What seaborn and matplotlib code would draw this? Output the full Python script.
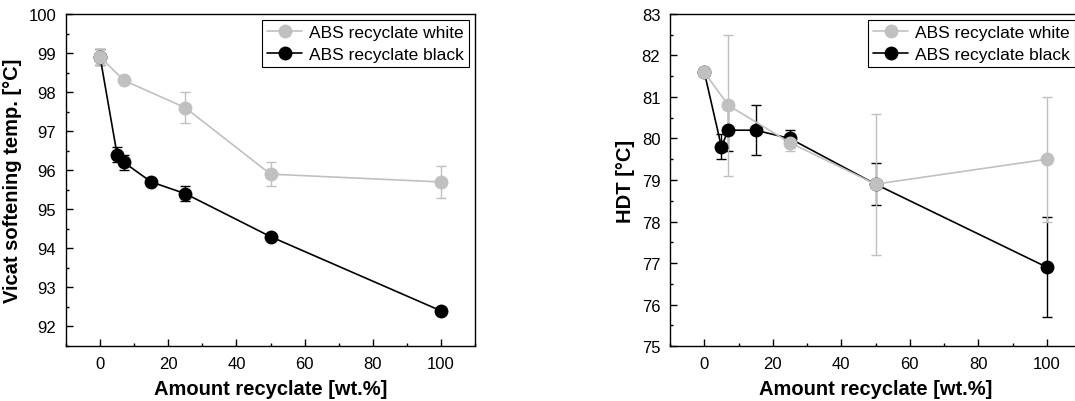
import matplotlib as mpl
import matplotlib.pyplot as plt
from matplotlib.ticker import MultipleLocator
import seaborn as sns
import pandas as pd
import numpy as np

# Vicat softening temperature
vicat_white_x = [0, 7, 25, 50, 100]
vicat_white_y = [98.9, 98.3, 97.6, 95.9, 95.7]
vicat_white_err = [0.2, 0.05, 0.4, 0.3, 0.4]
vicat_black_x = [0, 5, 7, 15, 25, 50, 100]
vicat_black_y = [98.9, 96.4, 96.2, 95.7, 95.4, 94.3, 92.4]
vicat_black_err = [0.2, 0.2, 0.2, 0.05, 0.2, 0.05, 0.05]

# HDT
hdt_white_x = [0, 7, 25, 50, 100]
hdt_white_y = [81.6, 80.8, 79.9, 78.9, 79.5]
hdt_white_err = [0.05, 1.7, 0.2, 1.7, 1.5]
hdt_black_x = [0, 5, 7, 15, 25, 50, 100]
hdt_black_y = [81.6, 79.8, 80.2, 80.2, 80.0, 78.9, 76.9]
hdt_black_err = [0.05, 0.3, 0.5, 0.6, 0.2, 0.5, 1.2]

WHITE = '#c0c0c0'
BLACK = '#000000'

sns.set_theme(style="ticks")
plt.rcParams['font.family'] = ['Liberation Sans', 'DejaVu Sans']
plt.rcParams['text.color'] = 'black'
plt.rcParams['axes.labelcolor'] = 'black'
plt.rcParams['xtick.color'] = 'black'
plt.rcParams['ytick.color'] = 'black'
mpl.rc('font', size=10)

fig = plt.figure(figsize=(10.75, 4.02), dpi=100)
ax1 = fig.add_axes([0.0614, 0.1368, 0.3805, 0.8259])
ax2 = fig.add_axes([0.6233, 0.1368, 0.3823, 0.8259])


def draw(ax, series, ylim, ylabel):
    for label, x, y, err, color in series:
        df = pd.DataFrame({'x': x, 'y': y})
        ax.errorbar(x, y, yerr=err, fmt='none', ecolor=color, elinewidth=1,
                    capsize=3.5, capthick=1, zorder=2)
        sns.lineplot(data=df, x='x', y='y', ax=ax, color=color, marker='o',
                     markersize=10, markeredgewidth=0, linewidth=1.2,
                     label=label, zorder=3)
    ax.set_xlim(-10, 110)
    ax.set_ylim(*ylim)
    ax.xaxis.set_major_locator(MultipleLocator(20))
    ax.xaxis.set_minor_locator(MultipleLocator(10))
    ax.yaxis.set_major_locator(MultipleLocator(1))
    ax.yaxis.set_minor_locator(MultipleLocator(0.5))
    ax.tick_params(which='both', direction='in', width=1, labelsize=12,
                   top=False, right=False, colors='black')
    ax.tick_params(which='major', length=5, pad=7)
    ax.tick_params(which='minor', length=2.5)
    for s in ax.spines.values():
        s.set_linewidth(1)
        s.set_color('black')
    ax.set_xlabel('Amount recyclate [wt.%]', fontsize=14.5, fontweight='bold', labelpad=6)
    ax.set_ylabel(ylabel, fontsize=14.5, fontweight='bold', labelpad=5)
    handles, labels = ax.get_legend_handles_labels()
    order = [labels.index('ABS recyclate white'), labels.index('ABS recyclate black')]
    leg = ax.legend([handles[i] for i in order], [labels[i] for i in order],
                    loc='upper right', fontsize=12.5, fancybox=False,
                    edgecolor='black', framealpha=1, borderpad=0.3,
                    handlelength=2.0, handletextpad=0.4, labelspacing=0.35,
                    borderaxespad=0.35)
    leg.get_frame().set_linewidth(0.8)


draw(ax1, [('ABS recyclate black', vicat_black_x, vicat_black_y, vicat_black_err, BLACK),
           ('ABS recyclate white', vicat_white_x, vicat_white_y, vicat_white_err, WHITE)],
     (91.5, 100), 'Vicat softening temp. [°C]')
draw(ax2, [('ABS recyclate black', hdt_black_x, hdt_black_y, hdt_black_err, BLACK),
           ('ABS recyclate white', hdt_white_x, hdt_white_y, hdt_white_err, WHITE)],
     (75, 83), 'HDT [°C]')

fig.savefig('out.png', dpi=100)
